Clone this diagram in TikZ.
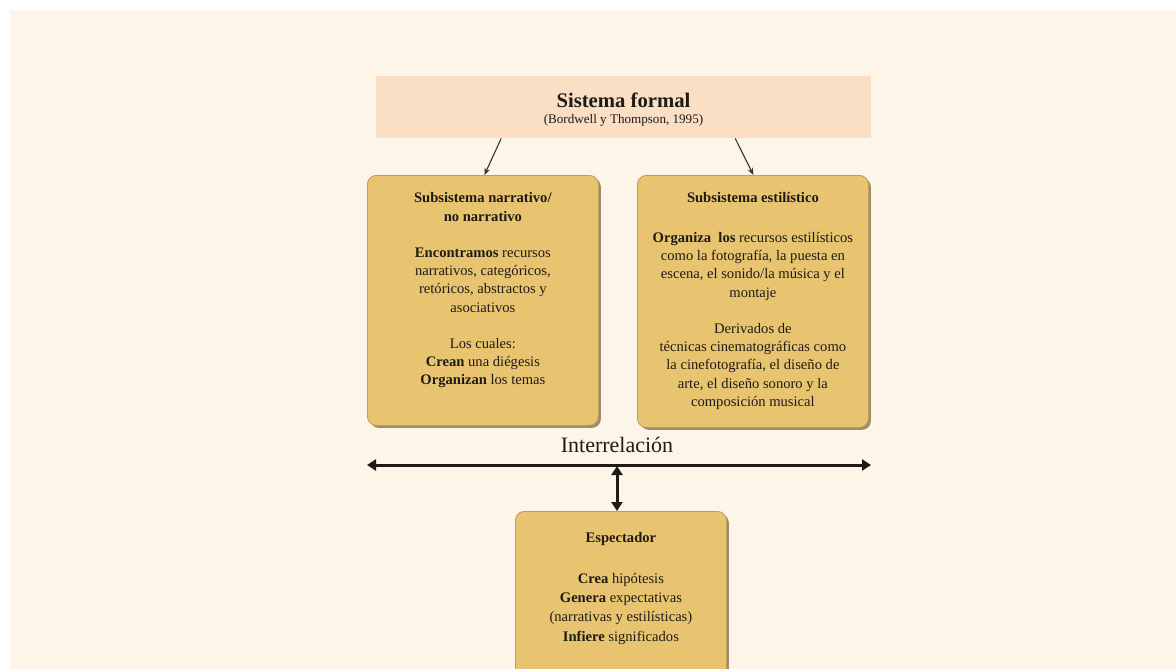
\documentclass[tikz,border=0pt]{standalone}
\usepackage{fontspec}
\setmainfont{Liberation Serif}
\usetikzlibrary{arrows.meta,shadows}

\definecolor{paper}{HTML}{FEF5E9}
\definecolor{headfill}{HTML}{FADFC5}
\definecolor{boxfill}{HTML}{E8C470}
\definecolor{boxline}{HTML}{C09C5C}
\definecolor{boxshade}{HTML}{A08C6C}
\definecolor{ink}{HTML}{1E1A16}

\tikzset{
  panel/.style={draw=boxline, line width=0.8pt, fill=boxfill, rounded corners=9pt,
    anchor=north west, inner sep=0pt,
    drop shadow={shadow xshift=2.5pt, shadow yshift=-2.5pt, fill=boxshade, opacity=1}},
  paneltext/.style={anchor=north, align=center, inner sep=0pt, text=ink,
    font=\fontsize{14.6}{18.2}\selectfont},
  thinarrow/.style={-{Stealth[length=7pt,width=5.5pt]}, line width=1.1pt, draw=ink!90},
  boldarrow/.style={{Triangle[length=9pt,width=11pt]}-{Triangle[length=9pt,width=11pt]},
    line width=3pt, draw=ink}
}

\begin{document}
\begin{tikzpicture}[x=1pt, y=-1pt]
  % page and paper
  \fill[white] (0,0) rectangle (1176,669);
  \fill[paper] (10,10) rectangle (1176,669);
  \useasboundingbox (0,0) rectangle (1176,669);

  % heading band
  \node[fill=headfill, anchor=north west, minimum width=495pt, minimum height=62pt,
        inner sep=0pt] (formal) at (376,76) {};
  \node[anchor=base, text=ink, font=\fontsize{20.7}{24}\selectfont\bfseries]
    (formaltitle) at (623.5,107) {Sistema formal};
  \node[anchor=base, text=ink, font=\fontsize{13.1}{15}\selectfont]
    (formalref) at (623.5,123) {(Bordwell y Thompson, 1995)};

  % the two subsystems
  \node[panel, minimum width=231pt, minimum height=250pt] (narr) at (367,175) {};
  \node[paneltext] (narrtext) at ([yshift=-17.5pt]narr.north) {%
    \textbf{Subsistema narrativo/}\\ \textbf{no narrativo}\\[18.2pt]
    \textbf{Encontramos} recursos\\ narrativos, categóricos,\\
    retóricos, abstractos y\\ asociativos\\[18.2pt]
    Los cuales:\\ \textbf{Crean} una diégesis\\ \textbf{Organizan} los temas};

  \node[panel, minimum width=231pt, minimum height=252pt] (estil) at (637,175) {};
  \node[paneltext] (estiltext) at ([yshift=-17.5pt]estil.north) {%
    \textbf{Subsistema estilístico}\\[21.5pt]
    \textbf{Organiza\ \ los} recursos estilísticos\\
    como la fotografía, la puesta en\\
    escena, el sonido/la música y el\\ montaje\\[18.2pt]
    Derivados de\\ técnicas cinematográficas como\\
    la cinefotografía, el diseño de\\ arte, el diseño sonoro y la\\
    composición musical};

  % the viewer
  \node[panel, minimum width=211pt, minimum height=180pt] (spect) at (515,511) {};
  \node[paneltext, font=\fontsize{14.6}{19.3}\selectfont] (specttext)
    at ([yshift=-21.5pt]spect.north) {%
    \textbf{Espectador}\\[21pt]
    \textbf{Crea} hipótesis\\ \textbf{Genera} expectativas\\
    (narrativas y estilísticas)\\ \textbf{Infiere} significados};

  % links from the heading
  \draw[thinarrow] ([xshift=-122.5pt]formal.south) -- ([xshift=1.5pt]narr.north);
  \draw[thinarrow] ([xshift=111.5pt]formal.south) -- ([xshift=0.5pt]estil.north);

  % interrelation axis
  \node[text=ink, font=\fontsize{22}{26}\selectfont] (inter) at (617,445) {Interrelación};
  \coordinate (axisL) at (367,465);
  \coordinate (axisR) at (871,465);
  \coordinate (axisM) at (617,466);
  \draw[boldarrow] (axisL) -- (axisR);
  \draw[boldarrow] (axisM) -- (spect.north -| axisM);
\end{tikzpicture}
\end{document}
